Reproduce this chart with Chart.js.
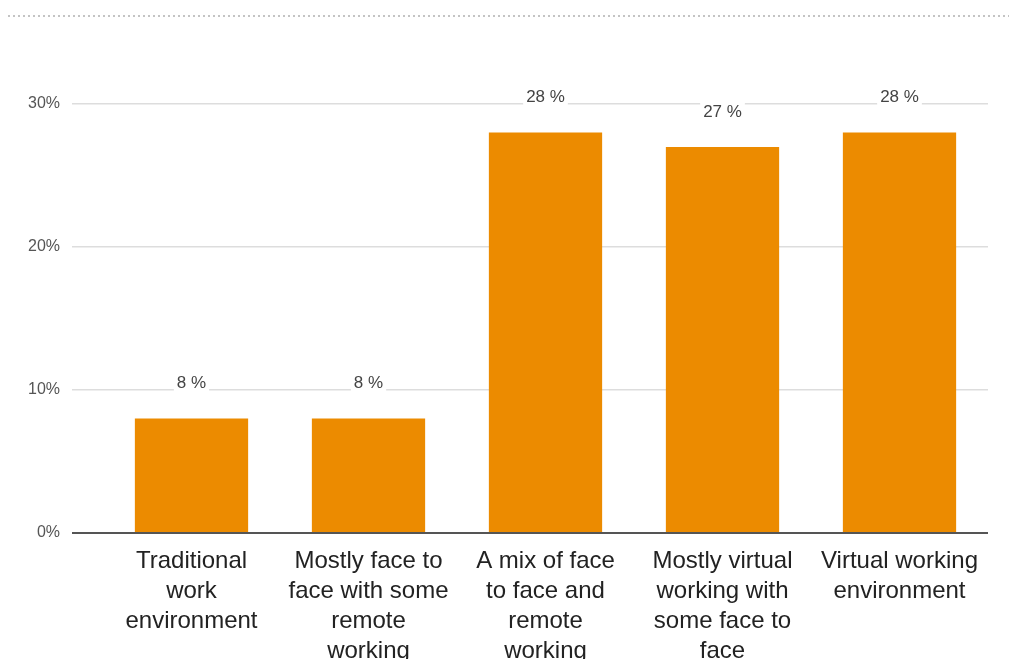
<!DOCTYPE html>
<html lang="en">
<head>
    <meta charset="UTF-8">
    <title>Working environment</title>
    <script src="https://cdn.jsdelivr.net/npm/chart.js"></script>
    <style>
        body {
            margin: 0;
            padding: 0;
            background-color: #ffffff;
            font-family: "Liberation Sans", Arial, sans-serif;
        }
        .wrap {
            position: relative;
            width: 1009px;
            height: 659px;
        }
    </style>
</head>
<body>
    <div class="wrap">
        <canvas id="env-chart"></canvas>
    </div>

    <script>
        // Data
        const categories = [
            ['Traditional', 'work', 'environment'],
            ['Mostly face to', 'face with some', 'remote', 'working'],
            ['A mix of face', 'to face and', 'remote', 'working'],
            ['Mostly virtual', 'working with', 'some face to', 'face'],
            ['Virtual working', 'environment']
        ];
        const shares = [8, 8, 28, 27, 28];
        const yTicks = [0, 10, 20, 30];

        // dotted rule across the top + value labels above the bars
        const extras = {
            id: 'extras',
            beforeDraw(chart) {
                const ctx = chart.ctx;
                ctx.save();
                ctx.strokeStyle = '#c4c4c4';
                ctx.lineWidth = 2;
                ctx.setLineDash([2, 3]);
                ctx.beginPath();
                ctx.moveTo(8, 16);
                ctx.lineTo(1009, 16);
                ctx.stroke();
                ctx.restore();
            },
            afterDatasetsDraw(chart) {
                const ctx = chart.ctx;
                const meta = chart.getDatasetMeta(0);
                ctx.save();
                ctx.font = '17px "Liberation Sans", Arial, sans-serif';
                ctx.textAlign = 'center';
                ctx.textBaseline = 'middle';
                meta.data.forEach((bar, i) => {
                    const txt = shares[i] + ' %';
                    const y = bar.y - 35;
                    const w = ctx.measureText(txt).width;
                    ctx.fillStyle = '#ffffff';
                    ctx.fillRect(bar.x - w / 2 - 3, y - 10, w + 6, 20);
                    ctx.fillStyle = '#444444';
                    ctx.fillText(txt, bar.x, y);
                });
                ctx.restore();
            }
        };

        const ctx = document.getElementById('env-chart').getContext('2d');
        new Chart(ctx, {
            type: 'bar',
            data: {
                labels: categories,
                datasets: [{
                    data: shares,
                    backgroundColor: '#ec8b00',
                    categoryPercentage: 1,
                    barPercentage: 0.64
                }]
            },
            options: {
                responsive: true,
                maintainAspectRatio: false,
                animation: false,
                layout: {
                    padding: { top: 104, right: 21, left: 0, bottom: 0 }
                },
                plugins: {
                    legend: { display: false },
                    tooltip: { enabled: false }
                },
                scales: {
                    x: {
                        grid: { display: false },
                        border: { display: false },
                        ticks: {
                            color: '#222222',
                            padding: 5,
                            maxRotation: 0,
                            autoSkip: false,
                            font: { family: '"Liberation Sans", Arial, sans-serif', size: 24, lineHeight: 1.25 }
                        },
                        afterFit(scale) { scale.height = 126; }
                    },
                    y: {
                        min: 0,
                        max: 30,
                        afterBuildTicks(scale) {
                            scale.ticks = yTicks.map(v => ({ value: v }));
                        },
                        afterFit(scale) { scale.width = 103; },
                        border: { display: false },
                        grid: {
                            color: c => c.tick && c.tick.value === 0 ? '#555555' : '#dddddd',
                            lineWidth: c => c.tick && c.tick.value === 0 ? 2 : 1.5,
                            tickLength: 31
                        },
                        ticks: {
                            color: '#555555',
                            padding: 12,
                            font: { family: '"Liberation Sans", Arial, sans-serif', size: 16 },
                            callback: v => v + '%'
                        }
                    }
                }
            },
            plugins: [extras]
        });
    </script>
</body>
</html>
